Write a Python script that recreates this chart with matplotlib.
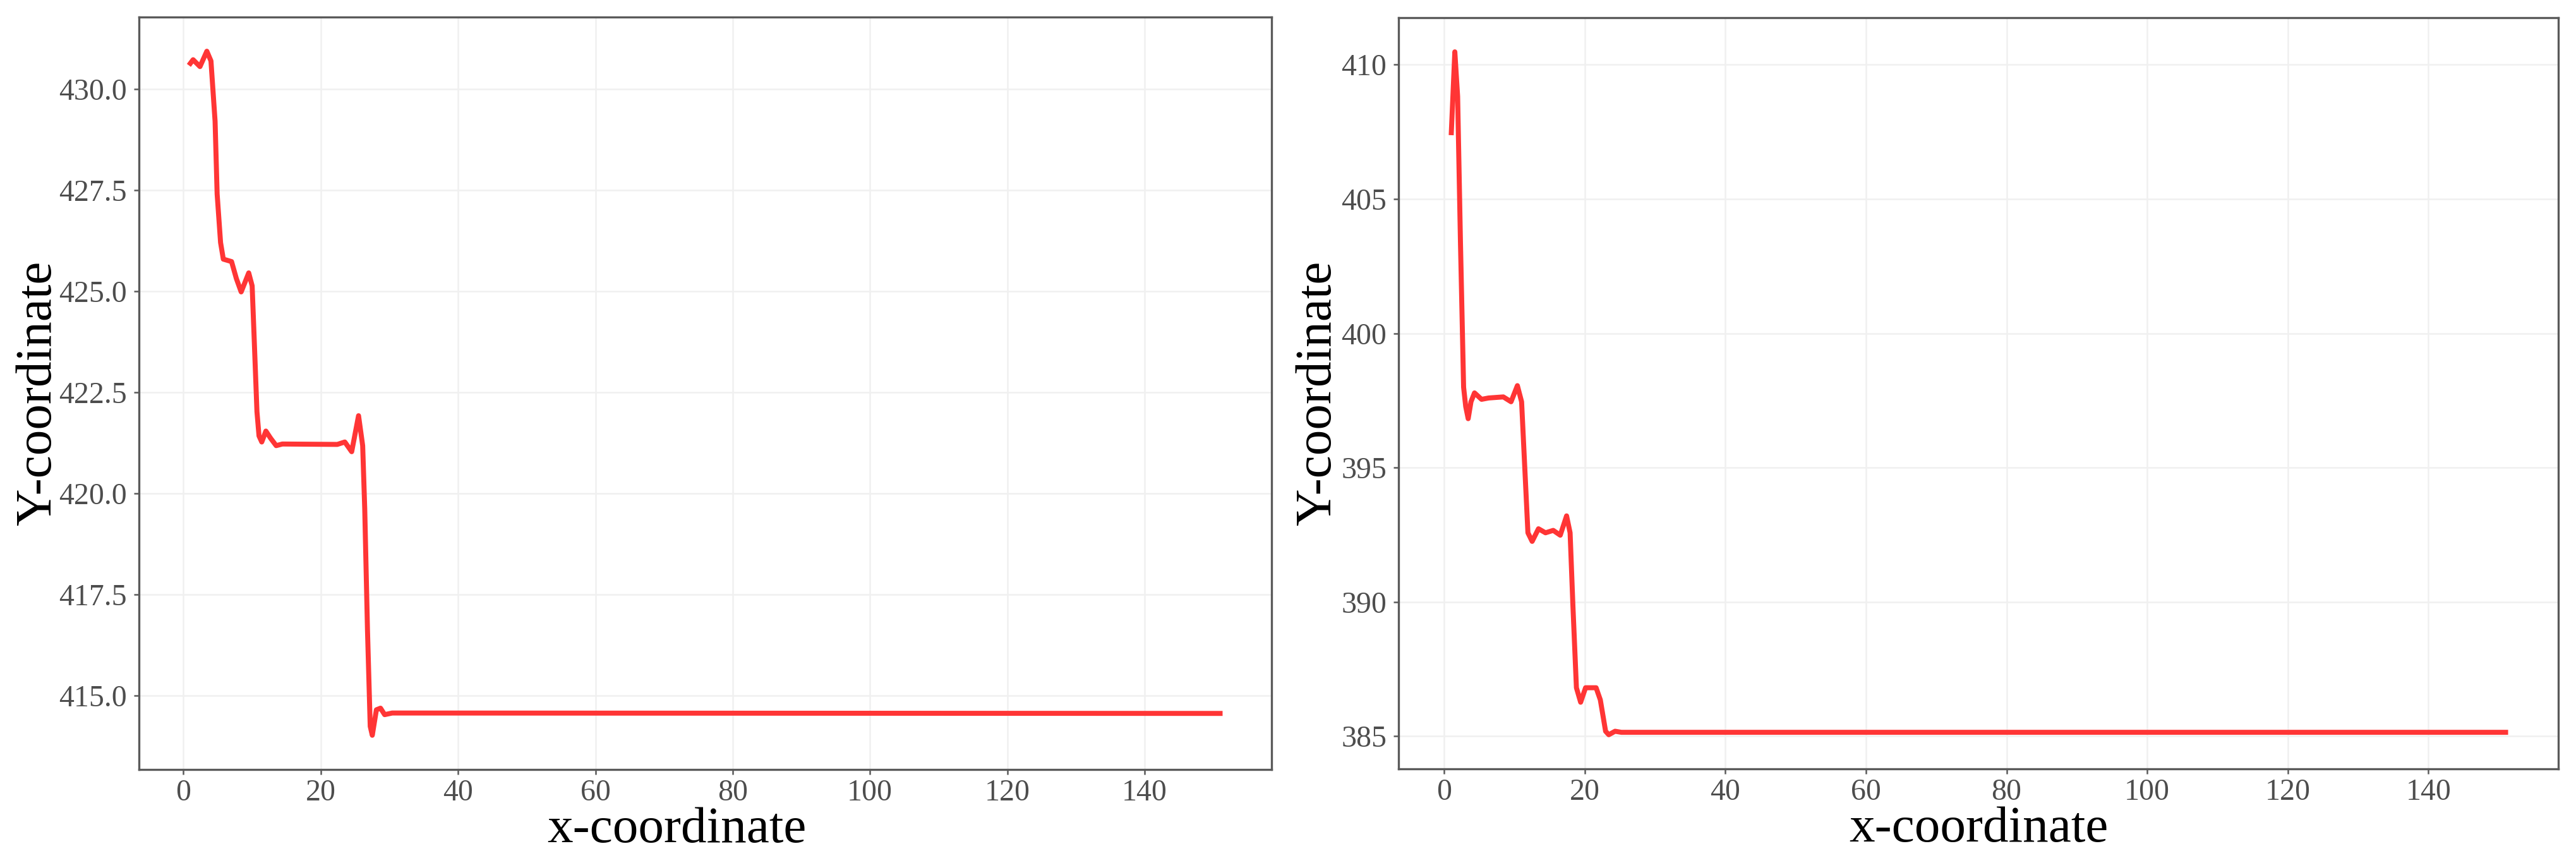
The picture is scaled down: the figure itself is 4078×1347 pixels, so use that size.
import matplotlib
matplotlib.use("Agg")
import matplotlib.pyplot as plt
from matplotlib.ticker import FormatStrFormatter

# left panel: values
x_left = [1.0, 1.4, 2.4, 3.4, 4.0, 4.6, 4.9, 5.4, 5.8, 7.0, 7.7, 8.4, 9.5, 10.0,
          10.3, 10.7, 11.0, 11.4, 12.0, 12.7, 13.5, 14.4, 22.4, 23.5, 24.5, 25.5,
          26.1, 26.4, 26.8, 27.2, 27.5, 28.1, 28.7, 29.3, 30.4, 151.0]
y_left = [430.63, 430.72, 430.55, 430.93, 430.69, 429.20, 427.40, 426.20, 425.79,
          425.73, 425.31, 424.98, 425.45, 425.13, 423.81, 422.02, 421.42, 421.27,
          421.54, 421.36, 421.18, 421.22, 421.21, 421.27, 421.03, 421.92, 421.18,
          419.62, 416.63, 414.24, 414.02, 414.65, 414.69, 414.53, 414.57, 414.56]

# right panel
x_right = [1.0, 1.5, 1.9, 2.3, 2.75, 3.05, 3.4, 3.8, 4.3, 5.3, 6.3, 8.4, 9.5, 10.4,
           11.0, 11.4, 11.9, 12.5, 13.4, 14.4, 15.5, 16.5, 17.4, 17.9, 18.3, 18.8,
           19.4, 20.1, 21.6, 22.2, 22.95, 23.4, 24.3, 25.2, 151.0]
y_right = [407.47, 410.48, 408.82, 403.40, 397.99, 397.27, 396.82, 397.45, 397.78,
           397.54, 397.59, 397.63, 397.45, 398.05, 397.45, 395.28, 392.57, 392.25,
           392.72, 392.57, 392.66, 392.48, 393.20, 392.57, 389.86, 386.80, 386.26,
           386.80, 386.80, 386.35, 385.18, 385.05, 385.18, 385.14, 385.14]

xticks = [0, 20, 40, 60, 80, 100, 120, 140]
yticks_left = [415.0, 417.5, 420.0, 422.5, 425.0, 427.5, 430.0]
yticks_right = [385, 390, 395, 400, 405, 410]

line_color = "#FF3535"
grid_color = "#F0F0F0"
frame_color = "#5A5A5A"
tick_text = "#4D4D4D"

fig = plt.figure(figsize=(4079 / 300, 1347 / 300), dpi=300)
ax1 = fig.add_axes([0.0539, 0.0958, 0.4396, 0.8842])
ax2 = fig.add_axes([0.5428, 0.0965, 0.4501, 0.8827])


def style(ax, yt, fmt, ylab_pad):
    ax.set_xticks(xticks)
    ax.set_yticks(yt)
    ax.yaxis.set_major_formatter(FormatStrFormatter(fmt))
    ax.grid(True, color=grid_color, linewidth=0.6)
    ax.set_axisbelow(True)
    for s in ax.spines.values():
        s.set_color(frame_color)
        s.set_linewidth(0.8)
    ax.tick_params(direction="out", length=2.0, width=0.6, color=frame_color,
                   labelsize=11.5, labelcolor=tick_text, pad=2.5)
    ax.tick_params(axis="x", pad=1.5)
    for lab in ax.get_xticklabels() + ax.get_yticklabels():
        lab.set_family("Liberation Serif")
    ax.set_xlabel("x-coordinate", family="Liberation Serif", fontsize=19.5,
                  labelpad=0)
    ax.set_ylabel("Y-coordinate", family="Liberation Serif", fontsize=19.5,
                  labelpad=ylab_pad)


ax1.plot(x_left, y_left, color=line_color, linewidth=1.9, solid_joinstyle="round")
ax2.plot(x_right, y_right, color=line_color, linewidth=1.9, solid_joinstyle="round")

style(ax1, yticks_left, "%.1f", -1)
style(ax2, yticks_right, "%d", 0)

# the left x title sits a little left of centre in the reference
ax1.xaxis.label.set_x(0.475)

fig.savefig("out.png", dpi=300, facecolor="white")
